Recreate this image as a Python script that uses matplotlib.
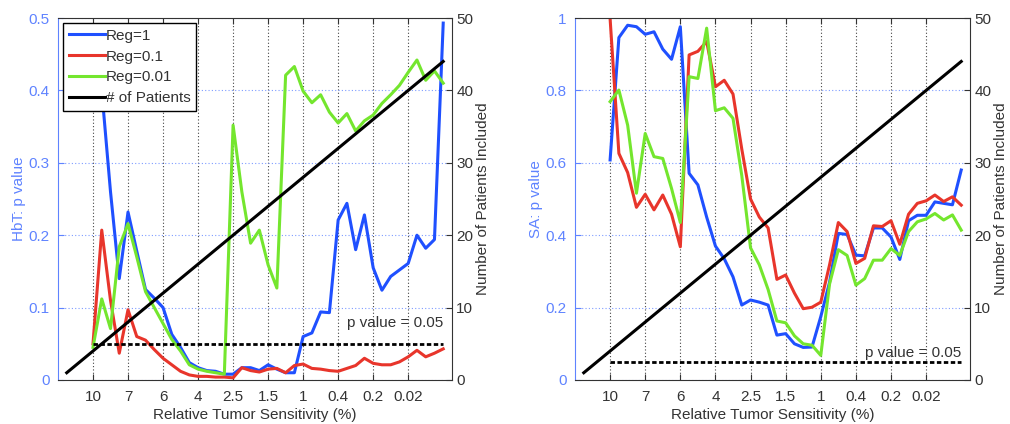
import matplotlib
matplotlib.use("Agg")
import matplotlib.pyplot as plt

plt.rcParams['font.family'] = ['Liberation Sans', 'DejaVu Sans']
plt.rcParams['font.size'] = 11

# sample index of each point (x axis), tick positions and their labels
sample_idx = list(range(4, 45))
patient_idx = list(range(1, 45))
n_patients = [1, 2, 3, 4, 5, 6, 7, 8, 9, 10, 11, 12, 13, 14, 15, 16, 17, 18, 19, 20, 21, 22,
              23, 24, 25, 26, 27, 28, 29, 30, 31, 32, 33, 34, 35, 36, 37, 38, 39, 40, 41, 42, 43, 44]
tick_pos = [4, 8, 12, 16, 20, 24, 28, 32, 36, 40]
tick_labels = ['10', '7', '6', '4', '2.5', '1.5', '1', '0.4', '0.2', '0.02']

# HbT p values
hbt_reg1 = [0.47, 0.40, 0.26, 0.14, 0.232, 0.178, 0.125, 0.113, 0.10, 0.063, 0.045, 0.024, 0.017,
            0.013, 0.012, 0.008, 0.008, 0.017, 0.017, 0.013, 0.021, 0.015, 0.01, 0.01, 0.06, 0.065,
            0.094, 0.093, 0.221, 0.244, 0.18, 0.228, 0.155, 0.124, 0.143, 0.152, 0.161, 0.2, 0.182,
            0.194, 0.493]
hbt_reg01 = [0.05, 0.207, 0.11, 0.037, 0.097, 0.06, 0.055, 0.042, 0.03, 0.021, 0.012, 0.007, 0.005,
             0.005, 0.004, 0.004, 0.003, 0.017, 0.013, 0.011, 0.015, 0.016, 0.01, 0.02, 0.022, 0.016,
             0.015, 0.013, 0.012, 0.016, 0.02, 0.03, 0.023, 0.021, 0.021, 0.025, 0.032, 0.041, 0.032,
             0.037, 0.043]
hbt_reg001 = [0.045, 0.112, 0.071, 0.184, 0.216, 0.17, 0.122, 0.1, 0.078, 0.056, 0.04, 0.021, 0.015,
              0.012, 0.01, 0.008, 0.352, 0.26, 0.189, 0.207, 0.159, 0.127, 0.421, 0.433, 0.399, 0.383,
              0.394, 0.37, 0.355, 0.368, 0.344, 0.358, 0.366, 0.382, 0.394, 0.407, 0.425, 0.442, 0.414,
              0.427, 0.41]

# SA p values
sa_reg1 = [0.608, 0.946, 0.98, 0.976, 0.955, 0.962, 0.914, 0.886, 0.976, 0.571, 0.539, 0.45, 0.37,
           0.335, 0.285, 0.207, 0.221, 0.215, 0.207, 0.124, 0.128, 0.1, 0.09, 0.091, 0.175, 0.27,
           0.405, 0.402, 0.345, 0.343, 0.42, 0.42, 0.395, 0.333, 0.44, 0.455, 0.455, 0.492, 0.488,
           0.484, 0.58]
sa_reg01 = [0.998, 0.626, 0.573, 0.477, 0.513, 0.47, 0.511, 0.458, 0.368, 0.898, 0.908, 0.935, 0.81,
            0.828, 0.79, 0.638, 0.5, 0.45, 0.42, 0.278, 0.29, 0.24, 0.197, 0.201, 0.215, 0.318,
            0.435, 0.41, 0.322, 0.336, 0.426, 0.424, 0.44, 0.375, 0.458, 0.488, 0.495, 0.511, 0.493,
            0.506, 0.483]
sa_reg001 = [0.769, 0.801, 0.704, 0.516, 0.681, 0.617, 0.612, 0.529, 0.435, 0.838, 0.833, 0.972, 0.744,
             0.752, 0.723, 0.565, 0.365, 0.318, 0.25, 0.163, 0.158, 0.122, 0.1, 0.096, 0.068, 0.265,
             0.36, 0.344, 0.262, 0.28, 0.331, 0.331, 0.363, 0.344, 0.41, 0.437, 0.445, 0.46, 0.442,
             0.456, 0.414]

p_threshold = 0.05

BLUE = '#1f50ff'
RED = '#e8352b'
GREEN = '#74e62e'
AXBLUE = '#5f83ff'
DARK = '#333333'


def draw_panel(rect, reg1, reg01, reg001, ymax, yticks, ylabels, ylabel, text_y, legend=False):
    ax = fig.add_axes(rect)
    l1, = ax.plot(sample_idx, reg1, color=BLUE, lw=2.2, label='Reg=1')
    l2, = ax.plot(sample_idx, reg01, color=RED, lw=2.2, label='Reg=0.1')
    l3, = ax.plot(sample_idx, reg001, color=GREEN, lw=2.2, label='Reg=0.01')
    ax.plot([sample_idx[0], sample_idx[-1]], [p_threshold, p_threshold], color='black',
            lw=2, ls=(0, (1.6, 0.9)))
    ax.text(sample_idx[-1], text_y, 'p value = 0.05', ha='right', va='center', color=DARK)
    ax.set_xlim(0, 45)
    ax.set_ylim(0, ymax)
    ax.set_xticks(tick_pos)
    ax.set_xticklabels(tick_labels, color=DARK)
    ax.set_yticks(yticks)
    ax.set_yticklabels(ylabels, color=AXBLUE)
    ax.xaxis.grid(True, color='#444444', ls=(0, (1, 2)), lw=0.8)
    ax.yaxis.grid(True, color='#7f9cff', ls=(0, (1, 2)), lw=0.8)
    ax.tick_params(axis='x', direction='in', top=True, length=4, pad=7, colors=DARK,
                   labelcolor=DARK)
    ax.tick_params(axis='y', direction='in', length=4, pad=6, colors=AXBLUE, labelcolor=AXBLUE)
    ax.spines['left'].set_color(AXBLUE)
    for s in ['top', 'bottom', 'right']:
        ax.spines[s].set_color(DARK)
    ax.set_xlabel('Relative Tumor Sensitivity (%)', color=DARK, labelpad=3)
    ax.set_ylabel(ylabel, color=AXBLUE, labelpad=2)

    ax2 = ax.twinx()
    l4, = ax2.plot(patient_idx, n_patients, color='black', lw=2.2, label='# of Patients')
    ax2.set_ylim(0, 50)
    ax2.set_yticks([0, 10, 20, 30, 40, 50])
    ax2.tick_params(axis='y', direction='in', length=4, pad=3, colors=DARK, labelcolor=DARK)
    ax2.set_ylabel('Number of Patients Included', color=DARK, labelpad=2)
    for s in ax2.spines.values():
        s.set_visible(False)
    if legend:
        leg = ax2.legend(handles=[l1, l2, l3, l4], loc='upper left', bbox_to_anchor=(0.0, 1.0),
                         borderaxespad=0.35, fancybox=False, framealpha=1, edgecolor='black',
                         handlelength=2.4, handletextpad=0.05, labelspacing=0.45, borderpad=0.35,
                         fontsize=11)
        leg.get_frame().set_linewidth(1.0)
        for t in leg.get_texts():
            t.set_color(DARK)
    return ax, ax2


fig = plt.figure(figsize=(10.1, 4.24), dpi=100)

draw_panel([0.0574, 0.1038, 0.3901, 0.8537], hbt_reg1, hbt_reg01, hbt_reg001, 0.5,
           [0, 0.1, 0.2, 0.3, 0.4, 0.5], ['0', '0.1', '0.2', '0.3', '0.4', '0.5'],
           'HbT: p value', 0.079, legend=True)
draw_panel([0.5693, 0.1038, 0.3911, 0.8537], sa_reg1, sa_reg01, sa_reg001, 1.0,
           [0, 0.2, 0.4, 0.6, 0.8, 1.0], ['0', '0.2', '0.4', '0.6', '0.8', '1'],
           'SA: p value', 0.075)

fig.savefig('out.png', dpi=100)
